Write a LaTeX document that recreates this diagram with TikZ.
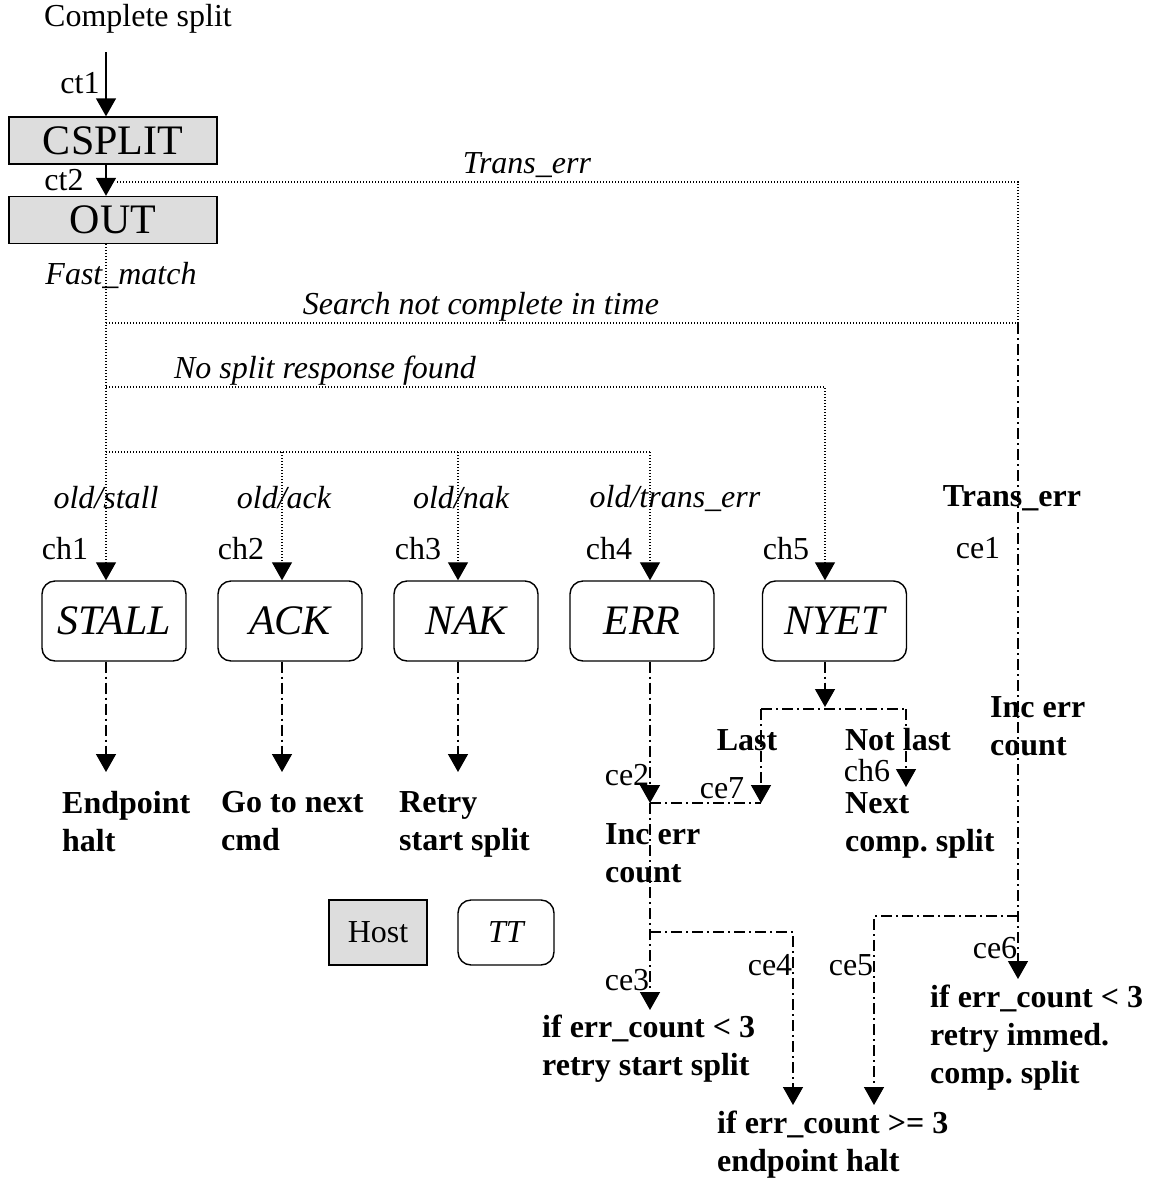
\documentclass[tikz,border=0pt]{standalone}
\usepackage{fontspec}
\setmainfont{Liberation Serif}
\usetikzlibrary{arrows.meta}
\definecolor{boxgray}{HTML}{DDDDDD}
\frenchspacing
\tikzset{
  lbl/.style={inner sep=0pt, font=\fontsize{32}{38}\selectfont},
  ilbl/.style={inner sep=0pt, font=\fontsize{32}{38}\selectfont\itshape},
  bsingle/.style={inner sep=0pt, font=\fontsize{32}{38}\selectfont\bfseries},
  blbl/.style={inner sep=0pt, font=\fontsize{32}{38}\selectfont\bfseries, align=left, anchor=north west},
  hostbox/.style={draw, line width=1.4pt, fill=boxgray, minimum width=208pt, minimum height=47pt, inner sep=0pt, font=\fontsize{42}{48}\selectfont},
  ttbox/.style={draw, rounded corners=13pt, line width=1.4pt, minimum width=144pt, minimum height=80pt, inner sep=0pt, font=\fontsize{42}{48}\selectfont\itshape},
  dotline/.style={line width=1.2pt, dash pattern=on 1.2pt off 1.8pt},
  ddline/.style={line width=1.4pt, dash pattern=on 11pt off 4pt on 2pt off 4pt},
  solidline/.style={line width=1.4pt},
  tip/.style={-{Triangle[width=20pt,length=18pt]}},
}
\begin{document}
\begin{tikzpicture}[x=1pt,y=-1pt]
\useasboundingbox (0,0) rectangle (1153,1179);

% host part
\node[lbl] (title) at (138,19) {Complete split};
\coordinate (top) at (106,52);
\node[lbl] (ct1) at (80,83) {ct1};
\node[hostbox] (csplit) at (113,140.5) {CSPLIT};
\node[lbl] (ct2) at (64,180) {ct2};
\node[hostbox] (out) at (113,220) {OUT};

% labels
\node[ilbl] (ltrans) at (527,165) {Trans\_err};
\node[ilbl] (lfast) at (121,275) {Fast\_match};
\node[ilbl] (lsearch) at (481,307) {Search not complete in time};
\node[ilbl] (lnosplit) at (325,371) {No split response found};
\node[ilbl] (lstall) at (106,498) {old/stall};
\node[ilbl] (lack) at (284,498) {old/ack};
\node[ilbl] (lnak) at (461,498) {old/nak};
\node[ilbl] (lterr) at (675,498) {old/trans\_err};
\node[bsingle] (btrans) at (1012,498) {Trans\_err};
\node[lbl] (ch1) at (65,549) {ch1};
\node[lbl] (ch2) at (241,549) {ch2};
\node[lbl] (ch3) at (418,549) {ch3};
\node[lbl] (ch4) at (609,549) {ch4};
\node[lbl] (ch5) at (786,549) {ch5};
\node[lbl] (ce1) at (978,548) {ce1};

% TT boxes
\node[ttbox] (stall) at (114,621) {STALL};
\node[ttbox] (ack) at (290,621) {ACK};
\node[ttbox] (nak) at (466,621) {NAK};
\node[ttbox] (err) at (642,621) {ERR};
\node[ttbox] (nyet) at (834.5,621) {NYET};

% outcomes
\node[blbl] (ohalt) at (62,791) {Endpoint\\halt};
\node[blbl] (onext) at (221,791) {Go to next\\cmd};
\node[blbl] (oretry) at (399,791) {Retry\\start split};
\node[blbl] (oinc) at (605,823) {Inc err\\count};
\node[blbl] (ocomp) at (845,792) {Next\\comp. split};
\node[blbl] (oinc2) at (990,696) {Inc err\\count};
\node[blbl] (oretry2) at (542,1015) {if err\_count < 3\\retry start split};
\node[blbl] (oimmed) at (930,985) {if err\_count < 3\\retry immed.\\comp. split};
\node[blbl] (ohalt2) at (717,1111) {if err\_count >= 3\\endpoint halt};
\node[bsingle] (llast) at (747,740) {Last};
\node[bsingle] (lnotlast) at (898,740) {Not last};
\node[lbl] (ce2) at (627,775) {ce2};
\node[lbl] (ce7) at (722,788) {ce7};
\node[lbl] (ch6) at (867,771) {ch6};
\node[lbl] (ce3) at (627,980) {ce3};
\node[lbl] (ce4) at (770,965) {ce4};
\node[lbl] (ce5) at (851,965) {ce5};
\node[lbl] (ce6) at (995,948) {ce6};

% legend
\node[hostbox, minimum width=98pt, minimum height=65pt, font=\fontsize{32}{38}\selectfont] (host) at (378,932.5) {Host};
\node[ttbox, minimum width=96pt, minimum height=65pt, font=\fontsize{32}{38}\selectfont\itshape] (tt) at (506,932.5) {TT};

% solid connectors
\draw[solidline,tip] (top) -- (top |- csplit.north);
\draw[solidline,tip] (top |- csplit.south) -- (top |- out.north);

% dotted connectors
\coordinate (tes) at (117,182);
\coordinate (ter) at (1018,182);
\coordinate (sr) at (1018,323);
\coordinate (sl) at (106,323);
\coordinate (nl) at (106,387);
\coordinate (nr) at (825,387);
\coordinate (ol) at (106,452);
\coordinate (o2) at (282,452);
\coordinate (o3) at (458,452);
\coordinate (o4) at (650,452);
\draw[dotline] (tes) -- (ter) -- (sr);
\draw[dotline,tip] (top |- out.south) -- (top |- stall.north);
\draw[dotline] (sl) -- (sr);
\draw[dotline,tip] (nl) -- (nr) -- (nr |- nyet.north);
\draw[dotline] (ol) -- (o4);
\draw[dotline,tip] (o2) -- (o2 |- ack.north);
\draw[dotline,tip] (o3) -- (o3 |- nak.north);
\draw[dotline,tip] (o4) -- (o4 |- err.north);

% dash-dot connectors
\coordinate (e1) at (106,772);
\coordinate (e2) at (282,772);
\coordinate (e3) at (458,772);
\draw[ddline,tip] (e1 |- stall.south) -- (e1);
\draw[ddline,tip] (e2 |- ack.south) -- (e2);
\draw[ddline,tip] (e3 |- nak.south) -- (e3);

\coordinate (ce2p) at (650,803);
\coordinate (ce3p) at (650,1010);
\coordinate (b4) at (650,932);
\coordinate (b4r) at (793,932);
\coordinate (ce4p) at (793,1105);
\draw[ddline,tip] (o4 |- err.south) -- (ce2p);
\draw[ddline,tip] (ce2p) -- (ce3p);
\draw[ddline,tip] (b4) -- (b4r) -- (ce4p);

\coordinate (ny) at (825,707);
\coordinate (nyl) at (761,709);
\coordinate (nyr) at (906,709);
\coordinate (ce7p) at (761,803);
\coordinate (ch6p) at (906,787);
\draw[ddline,tip] (nr |- nyet.south) -- (ny);
\draw[ddline] (nyl) -- (nyr);
\draw[ddline,tip] (nyl) -- (ce7p);
\draw[ddline,tip] (nyr) -- (ch6p);
\draw[ddline] (ce2p) -- (ce7p);

\coordinate (ce6p) at (1018,979);
\coordinate (b5r) at (1018,916);
\coordinate (b5) at (874,916);
\coordinate (ce5p) at (874,1105);
\draw[ddline,tip] (sr) -- (ce6p);
\draw[ddline,tip] (b5r) -- (b5) -- (ce5p);
\end{tikzpicture}
\end{document}
